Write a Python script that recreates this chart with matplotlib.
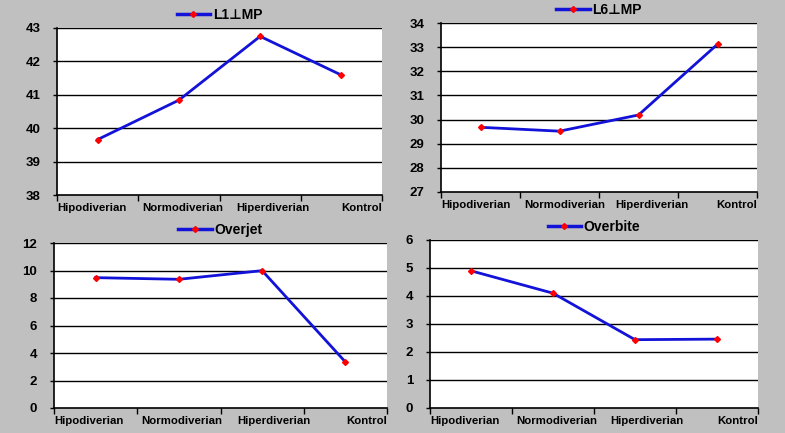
import matplotlib.pyplot as plt
from matplotlib.lines import Line2D
from matplotlib.transforms import blended_transform_factory, offset_copy

plt.rcParams['font.family'] = ['Liberation Sans', 'DejaVu Sans']

groups = ['Hipodiverian', 'Normodiverian', 'Hiperdiverian', 'Kontrol']
label_pos = [0.0, 1.05, 2.2, 4.0]

titles = ['L1\u22a5MP', 'L6\u22a5MP', 'Overjet', 'Overbite']
l1_mp = [39.66, 40.84, 42.75, 41.59]
l6_mp = [29.68, 29.52, 30.19, 33.12]
overjet = [9.48, 9.36, 9.99, 3.35]
overbite = [4.90, 4.10, 2.44, 2.46]
series = [l1_mp, l6_mp, overjet, overbite]

y_limits = [(38, 43), (27, 34), (0, 12), (0, 6)]
y_steps = [1, 1, 2, 1]

W, H = 785, 433
# axes boxes in pixels: left, right, top, bottom
boxes = [(57, 382, 28, 195), (441, 757, 23, 192),
         (54, 387, 243, 408), (430, 758, 240, 408)]

bg = '#c0c0c0'
blue = '#1212d8'
fig = plt.figure(figsize=(W / 100, H / 100), dpi=100, facecolor=bg)

for i in range(4):
    l, r, t, b = boxes[i]
    ax = fig.add_axes([l / W, (H - b) / H, (r - l) / W, (b - t) / H])
    ax.set_facecolor('white')
    xs = [k + 0.5 for k in range(4)]
    ax.plot(xs, series[i], color=blue, lw=2, marker='D', ms=3,
            mfc='red', mec='red', zorder=3)
    lo, hi = y_limits[i]
    ax.set_xlim(0, 4)
    ax.set_ylim(lo, hi)
    ticks = list(range(lo, hi + 1, y_steps[i]))
    ax.set_yticks(ticks)
    ax.set_yticklabels([str(v) for v in ticks], fontsize=9.5, fontweight='bold')
    for v in ticks[1:]:
        ax.axhline(v, color='black', lw=1, zorder=1)
    ax.set_xticks(range(5))
    ax.set_xticklabels([])
    ax.tick_params(axis='x', direction='out', length=4, width=1, color='black')
    ax.tick_params(axis='y', direction='out', length=3, width=1, pad=9)
    for s in ['top', 'right']:
        ax.spines[s].set_visible(False)
    for s in ['left', 'bottom']:
        ax.spines[s].set_linewidth(1.2)
    trans = offset_copy(blended_transform_factory(ax.transData, ax.transAxes),
                        fig=fig, y=-6, units='points')
    for k, name in enumerate(groups):
        ha = 'right' if k == 3 else 'left'
        ax.text(label_pos[k], 0, name, transform=trans, ha=ha, va='top',
                fontsize=8.2, fontweight='bold')
    handle = Line2D([], [], color=blue, lw=2.5, marker='D', ms=3,
                    mfc='red', mec='red')
    ax.legend([handle], [titles[i]], loc='lower center',
              bbox_to_anchor=(0.5, 1.0), frameon=False,
              prop={'size': 10, 'weight': 'bold'},
              handlelength=2.4, handletextpad=0.2, borderaxespad=0.05)

fig.savefig('out.png', dpi=100, facecolor=bg)
